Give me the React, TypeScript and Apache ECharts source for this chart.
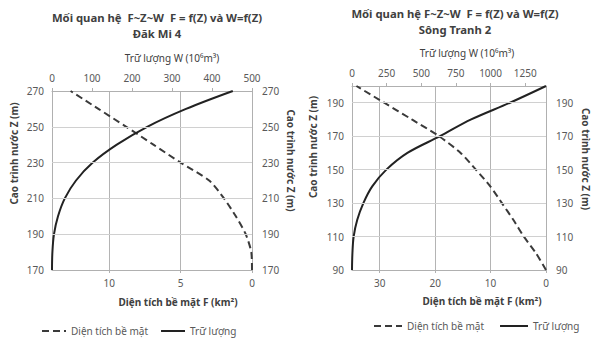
import React, { useEffect, useRef } from "react";
import * as echarts from "echarts";

// ---- Đăk Mi 4 ----
const Z_LEFT = [170, 180, 190, 200, 210, 220, 230, 240, 250, 260, 270];
const F_LEFT = [0, 0.05, 0.44, 1.13, 1.96, 3.0, 5.0, 6.9, 8.8, 10.75, 12.7];
const W_LEFT = [0, 1, 5, 15, 32, 60, 102, 162, 238, 335, 452];
const Z_TICKS_LEFT = [170, 190, 210, 230, 250, 270];

// ---- Sông Tranh 2 ----
const Z_RIGHT = [90, 100, 110, 120, 130, 140, 150, 160, 170, 180, 190, 200];
const F_RIGHT = [0, 1.8, 4.0, 5.9, 7.95, 10.05, 12.65, 15.4, 19.3, 24.2, 29.2, 34.2];
const W_RIGHT = [0, 3, 12, 38, 82, 146, 248, 400, 635, 860, 1140, 1400];
const Z_TICKS_RIGHT = [90, 110, 130, 150, 170, 190];

const TITLE_LINE1_LEFT = "Mối quan hệ  F~Z~W  F = f(Z) và W=f(Z)";
const TITLE_LINE2_LEFT = "Đăk Mi 4";
const TITLE_LINE1_RIGHT = "Mối quan hệ F~Z~W  F = f(Z) và W=f(Z)";
const TITLE_LINE2_RIGHT = "Sông Tranh 2";
const NAME_W = "Trữ lượng W (10⁶m³)";
const NAME_F = "Diện tích bề mặt F (km²)";
const NAME_Z = "Cao trình nước Z (m)";
const S_F = "Diện tích bề mặt";
const S_W = "Trữ lượng";

const FONT = "Noto Sans";
const AXIS_COLOR = "#b0b0b0";
const VGRID_COLOR = "#b4b4b4";
const HGRID_COLOR = "#d0d0d0";
const LABEL_COLOR = "#595959";
const NAME_COLOR = "#404040";
const LINE_SOLID = "#222222";
const LINE_DASH = "#3a3a3a";

const plain = (v: number) => String(v);

const axisBase = {
  type: "value" as const,
  axisLine: { show: true, lineStyle: { color: AXIS_COLOR, width: 1 } },
  axisTick: { show: true, length: 3, lineStyle: { color: AXIS_COLOR } },
  axisLabel: { color: LABEL_COLOR, fontSize: 10, fontFamily: FONT, formatter: plain },
  nameTextStyle: { color: NAME_COLOR, fontSize: 10, fontFamily: FONT },
};

function pairs(xs: number[], zs: number[]) {
  return xs.map((x, i) => [x, zs[i]]);
}

function hGrid(ticks: number[]) {
  return {
    silent: true,
    symbol: ["none", "none"],
    label: { show: false },
    lineStyle: { color: HGRID_COLOR, type: "solid", width: 1 },
    data: ticks.map((v) => ({ yAxis: v })),
  };
}

const titleText = (x: number, y: number, text: string) => ({
  type: "text",
  x,
  y,
  style: {
    text,
    fill: NAME_COLOR,
    fontSize: 11.3,
    fontWeight: "bold",
    fontFamily: FONT,
    textAlign: "center",
    textVerticalAlign: "middle",
  },
});

export default function App() {
  const ref = useRef<HTMLDivElement>(null);
  useEffect(() => {
    if (!ref.current) return;
    const chart = echarts.init(ref.current, null, { renderer: "svg" });
    const legendBase = {
      data: [S_F, S_W],
      itemHeight: 10,
      itemStyle: { opacity: 0 },
      textStyle: { color: LABEL_COLOR, fontSize: 10, fontFamily: FONT },
    };
    const option: any = {
      animation: false,
      textStyle: { fontFamily: FONT },
      graphic: [
        titleText(157, 17, TITLE_LINE1_LEFT),
        titleText(157, 33, TITLE_LINE2_LEFT),
        titleText(455, 13, TITLE_LINE1_RIGHT),
        titleText(455, 29, TITLE_LINE2_RIGHT),
      ],
      grid: [
        { left: 52, top: 91, width: 200, height: 179 },
        { left: 352, top: 86, width: 196, height: 184 },
      ],
      xAxis: [
        {
          ...axisBase, gridIndex: 0, position: "bottom", inverse: true, min: 0, max: 14, interval: 5,
          name: NAME_F, nameLocation: "middle", nameGap: 27,
          nameTextStyle: { ...axisBase.nameTextStyle, fontWeight: "bold", padding: [0, 0, 0, 52] },
          axisLabel: { ...axisBase.axisLabel, margin: 8, showMaxLabel: false },
          splitLine: { show: true, lineStyle: { color: VGRID_COLOR, width: 1 } },
        },
        {
          ...axisBase, gridIndex: 0, position: "top", min: 0, max: 500, interval: 100,
          name: NAME_W, nameLocation: "middle", nameGap: 28,
          nameTextStyle: { ...axisBase.nameTextStyle, padding: [0, 0, 0, 40] },
          axisLabel: { ...axisBase.axisLabel, margin: 8 },
          splitLine: { show: false },
        },
        {
          ...axisBase, gridIndex: 1, position: "bottom", inverse: true, min: 0, max: 35, interval: 10,
          name: NAME_F, nameLocation: "middle", nameGap: 26,
          nameTextStyle: { ...axisBase.nameTextStyle, fontWeight: "bold", padding: [0, 0, 0, 66] },
          axisLabel: { ...axisBase.axisLabel, margin: 8, showMaxLabel: false },
          splitLine: { show: true, lineStyle: { color: VGRID_COLOR, width: 1 } },
        },
        {
          ...axisBase, gridIndex: 1, position: "top", min: 0, max: 1400, interval: 250,
          name: NAME_W, nameLocation: "middle", nameGap: 28,
          nameTextStyle: { ...axisBase.nameTextStyle, padding: [0, 0, 0, 36] },
          axisLabel: { ...axisBase.axisLabel, margin: 8, showMaxLabel: false },
          splitLine: { show: false },
        },
      ],
      yAxis: [
        {
          ...axisBase, gridIndex: 0, position: "left", min: 170, max: 270,
          name: NAME_Z, nameLocation: "middle", nameGap: 33,
          nameTextStyle: { ...axisBase.nameTextStyle, fontWeight: "bold", padding: [0, 0, 0, 54] },
          axisLabel: { ...axisBase.axisLabel, margin: 8, customValues: Z_TICKS_LEFT },
          axisTick: { ...axisBase.axisTick, customValues: Z_TICKS_LEFT },
          splitLine: { show: false },
        },
        {
          ...axisBase, gridIndex: 0, position: "right", min: 170, max: 270,
          name: NAME_Z, nameLocation: "middle", nameGap: 34, nameRotate: -90,
          nameTextStyle: { ...axisBase.nameTextStyle, fontWeight: "bold", padding: [0, 40, 0, 0] },
          axisLabel: { ...axisBase.axisLabel, margin: 10, customValues: Z_TICKS_LEFT },
          axisTick: { ...axisBase.axisTick, customValues: Z_TICKS_LEFT },
          splitLine: { show: false },
        },
        {
          ...axisBase, gridIndex: 1, position: "left", min: 90, max: 200,
          name: NAME_Z, nameLocation: "middle", nameGap: 34,
          nameTextStyle: { ...axisBase.nameTextStyle, fontWeight: "bold", padding: [0, 0, 0, 62] },
          axisLabel: { ...axisBase.axisLabel, margin: 8, customValues: Z_TICKS_RIGHT },
          axisTick: { ...axisBase.axisTick, customValues: Z_TICKS_RIGHT },
          splitLine: { show: false },
        },
        {
          ...axisBase, gridIndex: 1, position: "right", min: 90, max: 200,
          name: NAME_Z, nameLocation: "middle", nameGap: 35, nameRotate: -90,
          nameTextStyle: { ...axisBase.nameTextStyle, fontWeight: "bold", padding: [0, 38, 0, 0] },
          axisLabel: { ...axisBase.axisLabel, margin: 10, customValues: Z_TICKS_RIGHT },
          axisTick: { ...axisBase.axisTick, customValues: Z_TICKS_RIGHT },
          splitLine: { show: false },
        },
      ],
      legend: [
        { ...legendBase, left: 36, top: 321, itemWidth: 24, itemGap: 12 },
        { ...legendBase, left: 368, top: 316, itemWidth: 28, itemGap: 15 },
      ],
      series: [
        {
          type: "line", name: S_F, xAxisIndex: 0, yAxisIndex: 0, data: pairs(F_LEFT, Z_LEFT),
          showSymbol: false, symbol: "none", smooth: 0.25,
          lineStyle: { color: LINE_DASH, width: 2, type: [7, 4] }, itemStyle: { color: LINE_DASH },
          markLine: hGrid(Z_TICKS_LEFT.slice(1, -1)),
        },
        {
          type: "line", name: S_W, xAxisIndex: 1, yAxisIndex: 0, data: pairs(W_LEFT, Z_LEFT),
          showSymbol: false, symbol: "none", smooth: 0.35,
          lineStyle: { color: LINE_SOLID, width: 2 }, itemStyle: { color: LINE_SOLID },
        },
        {
          type: "line", name: S_F, xAxisIndex: 2, yAxisIndex: 2, data: pairs(F_RIGHT, Z_RIGHT),
          showSymbol: false, symbol: "none", smooth: 0.25,
          lineStyle: { color: LINE_DASH, width: 2, type: [7, 4] }, itemStyle: { color: LINE_DASH },
          markLine: hGrid(Z_TICKS_RIGHT.slice(1)),
        },
        {
          type: "line", name: S_W, xAxisIndex: 3, yAxisIndex: 2, data: pairs(W_RIGHT, Z_RIGHT),
          showSymbol: false, symbol: "none", smooth: 0.35,
          lineStyle: { color: LINE_SOLID, width: 2 }, itemStyle: { color: LINE_SOLID },
        },
      ],
    };
    chart.setOption(option);
    return () => chart.dispose();
  }, []);
  return (
    <div
      ref={ref}
      style={{ position: "absolute", left: 0, top: 0, width: 592, height: 340, background: "#fff" }}
    />
  );
}
